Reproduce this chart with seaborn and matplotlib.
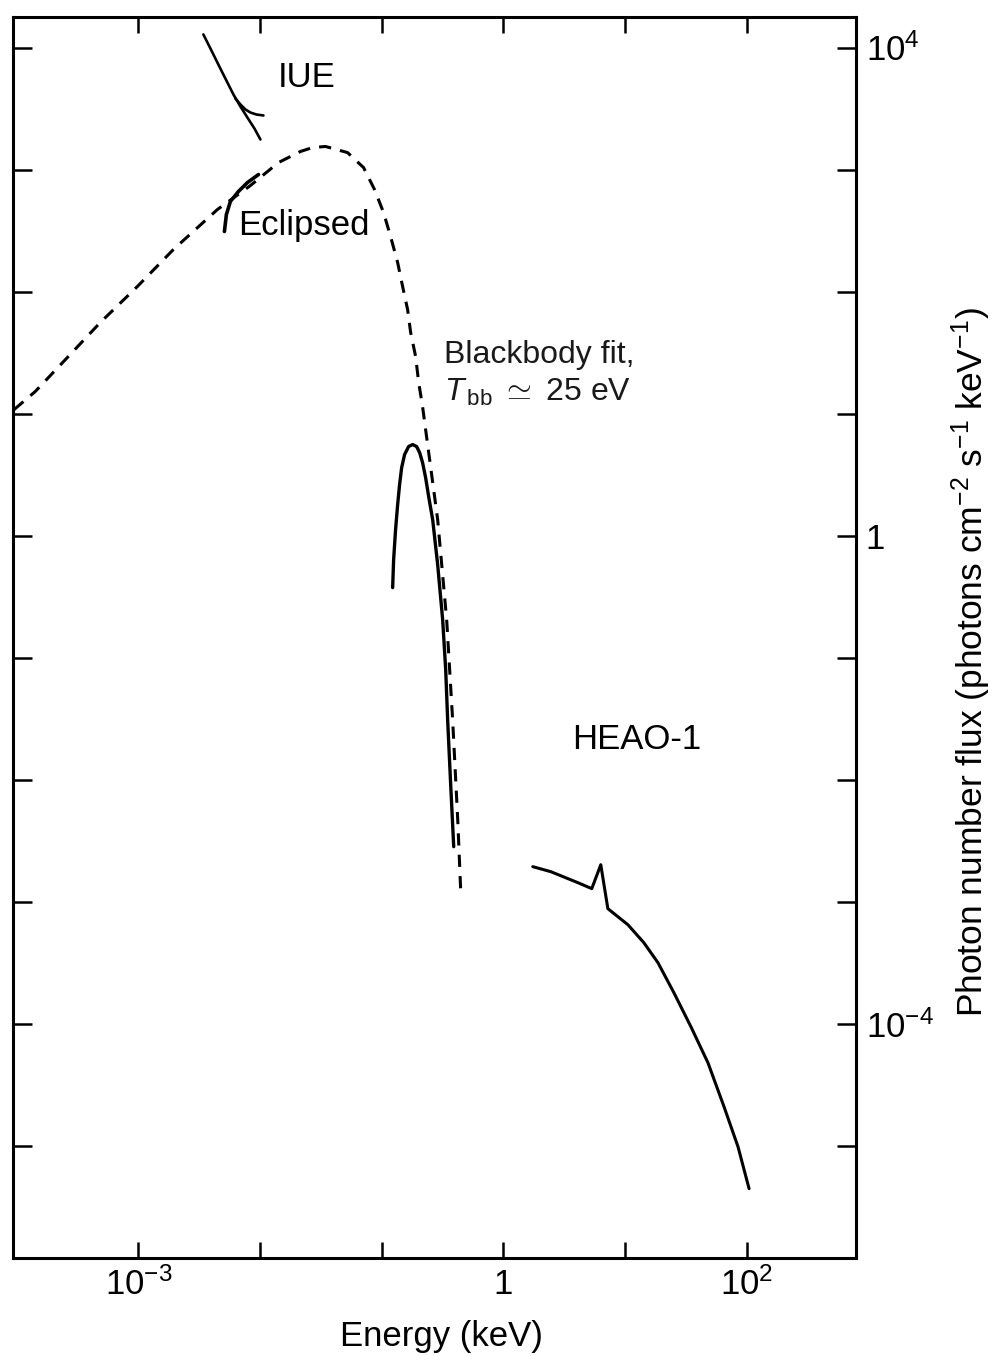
import numpy as np
import pandas as pd
import matplotlib
matplotlib.use("Agg")
import matplotlib.pyplot as plt
from matplotlib.ticker import NullLocator, FixedLocator, FixedFormatter
import seaborn as sns

# ---------------- data (log10 values) ----------------
# Blackbody fit (dashed)
bb_log_e = [-4.021, -3.848, -3.576, -3.313, -3.008, -2.712, -2.350, -2.078, -1.848,
            -1.667, -1.568, -1.461, -1.280, -1.148, -1.058, -0.984, -0.926, -0.868,
            -0.827, -0.786, -0.761, -0.720, -0.695, -0.663, -0.638, -0.539, -0.465,
            -0.416, -0.374, -0.350]
bb_log_f = [1.033, 1.180, 1.467, 1.746, 2.041, 2.344, 2.672, 2.869, 3.057,
            3.148, 3.180, 3.189, 3.139, 3.016, 2.836, 2.648, 2.451, 2.238,
            2.041, 1.852, 1.664, 1.467, 1.254, 1.057, 0.869, 0.131, -0.689,
            -1.508, -2.328, -2.902]

# IUE main spectrum
iue_log_e = [-2.465, -2.407, -2.342, -2.276, -2.218, -2.160, -2.103, -2.045, -1.996]
iue_log_f = [4.107, 3.992, 3.861, 3.730, 3.615, 3.516, 3.426, 3.336, 3.246]
# IUE branch
iue2_log_e = [-2.202, -2.160, -2.119, -2.078, -2.029, -1.971]
iue2_log_f = [3.582, 3.533, 3.492, 3.467, 3.451, 3.443]

# Eclipsed
ecl_log_e = [-2.292, -2.276, -2.243, -2.177, -2.103, -2.012]
ecl_log_f = [2.492, 2.631, 2.738, 2.820, 2.893, 2.959]

# Soft X-ray spectrum
sx_log_e = [-0.909, -0.901, -0.885, -0.868, -0.852, -0.835, -0.811, -0.778, -0.745,
            -0.712, -0.687, -0.663, -0.638, -0.613, -0.580, -0.539, -0.498, -0.473,
            -0.457, -0.432, -0.407]
sx_log_f = [-0.426, -0.197, 0.049, 0.254, 0.418, 0.557, 0.664, 0.730, 0.746,
            0.730, 0.680, 0.598, 0.475, 0.320, 0.131, -0.238, -0.689, -1.098,
            -1.508, -2.041, -2.549]

# HEAO-1
heao_log_e = [0.243, 0.391, 0.613, 0.728, 0.802, 0.860, 1.025, 1.156, 1.272,
              1.403, 1.543, 1.683, 1.815, 1.930, 2.021]
heao_log_f = [-2.713, -2.754, -2.844, -2.893, -2.697, -3.057, -3.189, -3.336,
              -3.500, -3.746, -4.025, -4.320, -4.680, -5.008, -5.352]

x_ticks_log = [-3, -2, -1, 0, 1, 2]
x_tick_labels = [r"$10^{-3}$", "", "", "1", "", r"$10^{2}$"]
y_ticks_log = [-5, -4, -3, -2, -1, 0, 1, 2, 3, 4]
y_tick_labels = ["", r"$10^{-4}$", "", "", "", "1", "", "", "", r"$10^{4}$"]

# ---------------- style ----------------
sns.set_theme(style="white")
plt.rcParams["font.family"] = ["Liberation Sans", "DejaVu Sans"]
plt.rcParams["text.color"] = "black"
plt.rcParams["mathtext.fontset"] = "custom"
plt.rcParams["mathtext.rm"] = "Liberation Sans"
plt.rcParams["mathtext.it"] = "Liberation Sans:italic"
plt.rcParams["mathtext.bf"] = "Liberation Sans:bold"

fig = plt.figure(figsize=(9.93, 13.56), dpi=100)
fig.patch.set_facecolor("white")
ax = fig.add_axes([13 / 993, 1 - 1258 / 1356, 843 / 993, 1241 / 1356])
ax.set_facecolor("white")


def draw(le, lf, **kw):
    x = 10 ** np.asarray(le)
    y = 10 ** np.asarray(lf)
    sns.lineplot(x=x, y=y, ax=ax, sort=False, estimator=None, color="black", **kw)


draw(bb_log_e, bb_log_f, lw=2.2, linestyle=(0, (4, 3)))
draw(iue_log_e, iue_log_f, lw=1.9)
draw(iue2_log_e, iue2_log_f, lw=1.9)
draw(ecl_log_e, ecl_log_f, lw=2.6)
draw(sx_log_e, sx_log_f, lw=2.4)
draw(heao_log_e, heao_log_f, lw=2.2)

ax.set_xscale("log")
ax.set_yscale("log")
ax.set_xlim(10 ** -4.03, 10 ** 2.9)
ax.set_ylim(10 ** -5.92, 10 ** 4.25)

ax.xaxis.set_major_locator(FixedLocator([10.0 ** v for v in x_ticks_log]))
ax.xaxis.set_major_formatter(FixedFormatter(x_tick_labels))
ax.yaxis.set_major_locator(FixedLocator([10.0 ** v for v in y_ticks_log]))
ax.yaxis.set_major_formatter(FixedFormatter(y_tick_labels))
ax.xaxis.set_minor_locator(NullLocator())
ax.yaxis.set_minor_locator(NullLocator())

for s in ax.spines.values():
    s.set_visible(True)
    s.set_color("black")
    s.set_linewidth(2.2)

ax.tick_params(axis="x", which="major", direction="in", length=11.5, width=1.8,
               top=True, bottom=True, labelbottom=True, labeltop=False,
               labelsize=25, pad=7, colors="black")
ax.tick_params(axis="y", which="major", direction="in", length=14, width=1.8,
               left=True, right=True, labelleft=False, labelright=True,
               labelsize=25, pad=7, colors="black")

ax.set_xlabel("Energy (keV)", fontsize=25, color="black")
ax.xaxis.set_label_coords(0.508, -0.050)
ax.yaxis.set_label_position("right")
ax.set_ylabel(r"Photon number flux (photons cm$^{-2}$ s$^{-1}$ keV$^{-1}$)",
              fontsize=25.5, color="black")
ax.yaxis.set_label_coords(1.1115, 0.48)

ax.text(10 ** -1.617, 10 ** 3.754, "IUE", fontsize=25, ha="center", va="center",
        color="black")
ax.text(10 ** -1.642, 10 ** 2.541, "Eclipsed", fontsize=25, ha="center", va="center",
        color="black")
ax.text(10 ** -0.49, 10 ** 1.484, "Blackbody fit,", fontsize=23, ha="left",
        va="center", color="#1a1a1a")
ax.text(10 ** -0.49, 10 ** 1.172, r"$T_{\,\rm bb}\ \simeq$ 25 eV", fontsize=23,
        ha="left", va="center", color="#1a1a1a")
ax.text(10 ** 1.099, 10 ** -1.672, "HEAO-1", fontsize=25, ha="center", va="center",
        color="black")

fig.savefig("out.png", dpi=100, facecolor="white")
